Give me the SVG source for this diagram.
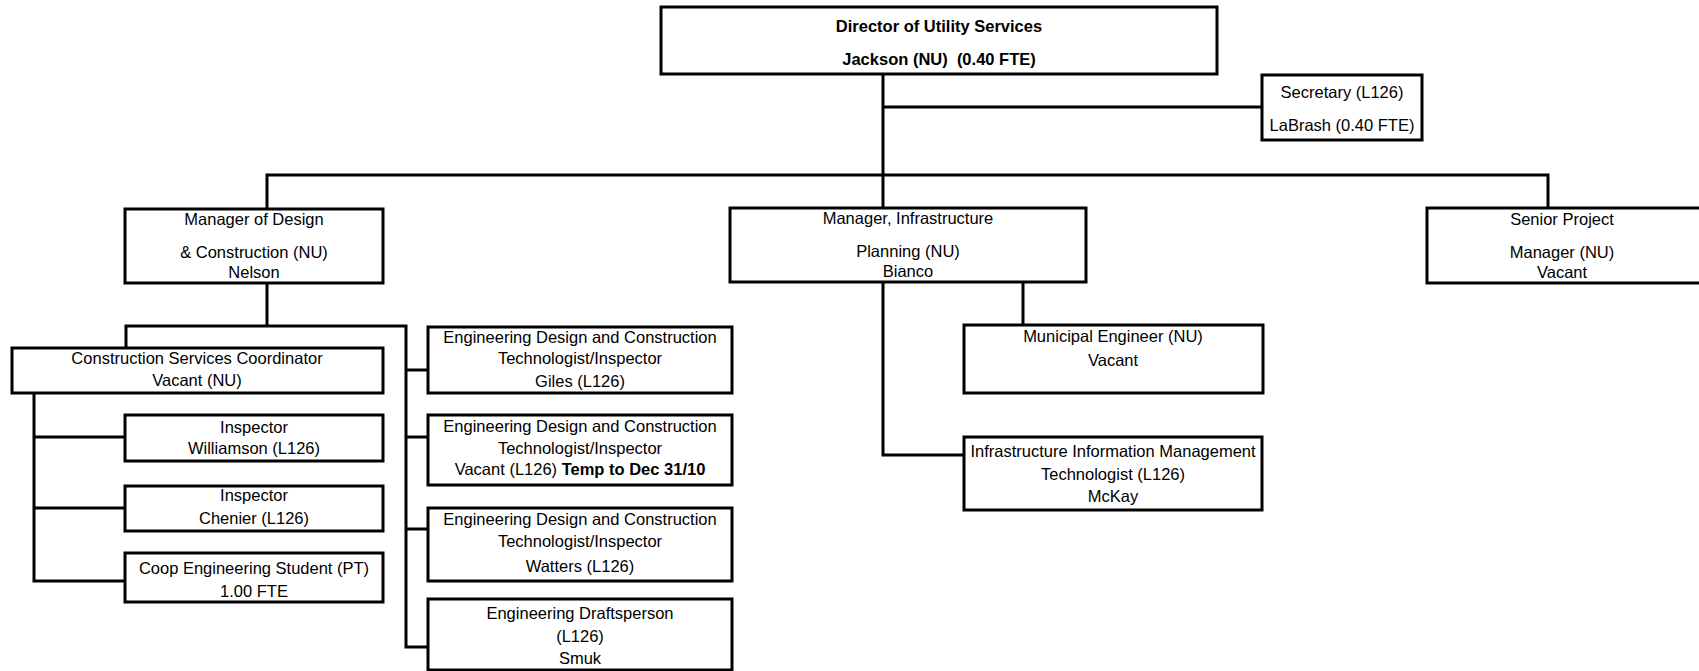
<svg xmlns="http://www.w3.org/2000/svg" width="1699" height="671" viewBox="0 0 1699 671">
  <style>
    .box { fill: #fff; stroke: #000; stroke-width: 3; }
    .wire { fill: none; stroke: #000; stroke-width: 3; stroke-linejoin: miter; stroke-linecap: butt; }
    text { font-family: "Liberation Sans", Arial, sans-serif; font-size: 16.5px; fill: #000; text-anchor: middle; }
    .b { font-weight: bold; }
  </style>
  <rect width="1699" height="671" fill="#fff"/>

  <!-- reporting lines -->
  <g id="connectors">
    <polyline class="wire" points="883,74 883,208"/>
    <polyline class="wire" points="883,107 1262,107"/>
    <polyline class="wire" points="267,209 267,175 1548,175 1548,208"/>
    <polyline class="wire" points="267,283 267,326"/>
    <polyline class="wire" points="126,348 126,326 406,326 406,647 428,647"/>
    <polyline class="wire" points="406,370 428,370"/>
    <polyline class="wire" points="406,437 428,437"/>
    <polyline class="wire" points="406,529 428,529"/>
    <polyline class="wire" points="34,393 34,581 125,581"/>
    <polyline class="wire" points="34,437 125,437"/>
    <polyline class="wire" points="34,508 125,508"/>
    <polyline class="wire" points="883,282 883,455 964,455"/>
    <polyline class="wire" points="1023,282 1023,325"/>
  </g>

  <g id="director">
    <rect class="box" x="661" y="7" width="556" height="67"/>
    <text class="b" x="939" y="32">Director of Utility Services</text>
    <text class="b" x="939" y="65" xml:space="preserve">Jackson (NU)  (0.40 FTE)</text>
  </g>

  <g id="secretary">
    <rect class="box" x="1262" y="75" width="160" height="65"/>
    <text x="1342" y="98">Secretary (L126)</text>
    <text x="1342" y="131">LaBrash (0.40 FTE)</text>
  </g>

  <g id="manager-design">
    <rect class="box" x="125" y="209" width="258" height="74"/>
    <text x="254" y="225">Manager of Design</text>
    <text x="254" y="258">&amp; Construction (NU)</text>
    <text x="254" y="278">Nelson</text>
  </g>

  <g id="manager-infrastructure">
    <rect class="box" x="730" y="208" width="356" height="74"/>
    <text x="908" y="224">Manager, Infrastructure</text>
    <text x="908" y="257">Planning (NU)</text>
    <text x="908" y="277">Bianco</text>
  </g>

  <g id="senior-project-manager">
    <rect class="box" x="1427" y="208" width="280" height="75"/>
    <text x="1562" y="225">Senior Project</text>
    <text x="1562" y="258">Manager (NU)</text>
    <text x="1562" y="278">Vacant</text>
  </g>

  <g id="construction-coordinator">
    <rect class="box" x="12" y="348" width="371" height="45"/>
    <text x="197" y="364">Construction Services Coordinator</text>
    <text x="197" y="386">Vacant (NU)</text>
  </g>

  <g id="inspector-williamson">
    <rect class="box" x="125" y="415" width="258" height="46"/>
    <text x="254" y="433">Inspector</text>
    <text x="254" y="454">Williamson (L126)</text>
  </g>

  <g id="inspector-chenier">
    <rect class="box" x="125" y="486" width="258" height="45"/>
    <text x="254" y="501">Inspector</text>
    <text x="254" y="524">Chenier (L126)</text>
  </g>

  <g id="coop-student">
    <rect class="box" x="125" y="553" width="258" height="49"/>
    <text x="254" y="574">Coop Engineering Student (PT)</text>
    <text x="254" y="597">1.00 FTE</text>
  </g>

  <g id="technologist-giles">
    <rect class="box" x="428" y="327" width="304" height="66"/>
    <text x="580" y="343">Engineering Design and Construction</text>
    <text x="580" y="364">Technologist/Inspector</text>
    <text x="580" y="387">Giles (L126)</text>
  </g>

  <g id="technologist-vacant">
    <rect class="box" x="428" y="415" width="304" height="70"/>
    <text x="580" y="432">Engineering Design and Construction</text>
    <text x="580" y="454">Technologist/Inspector</text>
    <text x="580" y="475" xml:space="preserve">Vacant (L126) <tspan class="b">Temp to Dec 31/10</tspan></text>
  </g>

  <g id="technologist-watters">
    <rect class="box" x="428" y="508" width="304" height="73"/>
    <text x="580" y="525">Engineering Design and Construction</text>
    <text x="580" y="547">Technologist/Inspector</text>
    <text x="580" y="572">Watters (L126)</text>
  </g>

  <g id="draftsperson-smuk">
    <rect class="box" x="428" y="599" width="304" height="71"/>
    <text x="580" y="619">Engineering Draftsperson</text>
    <text x="580" y="642">(L126)</text>
    <text x="580" y="664">Smuk</text>
  </g>

  <g id="municipal-engineer">
    <rect class="box" x="964" y="325" width="299" height="68"/>
    <text x="1113" y="342">Municipal Engineer (NU)</text>
    <text x="1113" y="366">Vacant</text>
  </g>

  <g id="info-management-technologist">
    <rect class="box" x="964" y="437" width="298" height="73"/>
    <text x="1113" y="457">Infrastructure Information Management</text>
    <text x="1113" y="480">Technologist (L126)</text>
    <text x="1113" y="502">McKay</text>
  </g>
</svg>
